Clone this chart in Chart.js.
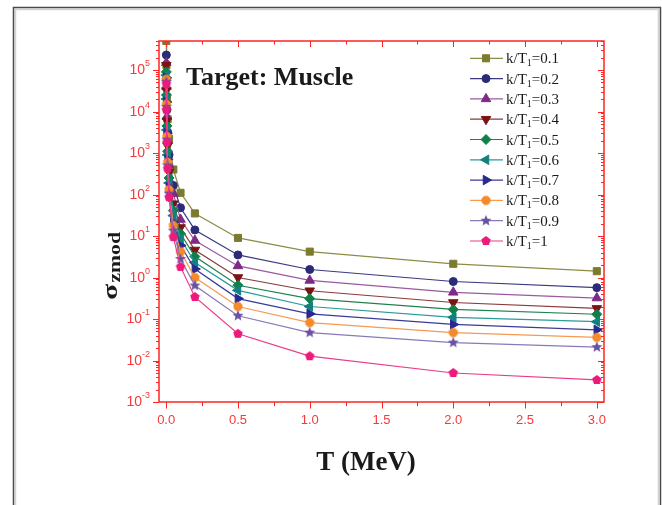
<!DOCTYPE html>
<html>
<head>
<meta charset="utf-8">
<script src="https://cdn.jsdelivr.net/npm/chart.js@4.4.1/dist/chart.umd.min.js"></script>
<style>
  html, body { margin: 0; padding: 0; background: #fff; }
  #wrap { width: 662px; height: 505px; }
</style>
</head>
<body>
<div id="wrap"><canvas id="myChart" width="662" height="505"></canvas></div>
<script>
// T (MeV)
const energies = [0.001, 0.002, 0.005, 0.01, 0.02, 0.05, 0.1, 0.2, 0.5, 1, 2, 3];
const ratioLabels = ['0.1', '0.2', '0.3', '0.4', '0.5', '0.6', '0.7', '0.8', '0.9', '1'];

const sigma_k01 = [500000, 130000, 22000, 6500, 2200, 400, 110, 35, 9.0, 4.2, 2.14, 1.42];
const sigma_k02 = [230000, 60000, 11000, 3200, 900, 165, 48, 14, 3.5, 1.56, 0.80, 0.57];
const sigma_k03 = [150000, 40000, 7500, 2000, 520, 105, 25, 7.8, 1.9, 0.85, 0.44, 0.32];
const sigma_k04 = [130000, 32000, 6000, 1500, 350, 60, 16, 4.6, 1.0, 0.48, 0.25, 0.18];
const sigma_k05 = [90000, 25000, 4500, 1100, 250, 41, 11.3, 3.2, 0.65, 0.31, 0.17, 0.13];
const sigma_k06 = [75000, 20000, 3600, 900, 190, 31, 8.5, 2.3, 0.49, 0.20, 0.11, 0.086];
const sigma_k07 = [65000, 17000, 3000, 700, 150, 21, 5.9, 1.6, 0.31, 0.133, 0.074, 0.055];
const sigma_k08 = [60000, 15000, 2500, 600, 130, 18, 4.2, 1.0, 0.20, 0.082, 0.047, 0.036];
const sigma_k09 = [52000, 13000, 2100, 500, 105, 13.5, 2.8, 0.64, 0.12, 0.047, 0.027, 0.021];
const sigma_k10 = [46000, 11000, 1800, 420, 86, 9.4, 1.8, 0.34, 0.044, 0.0127, 0.0050, 0.0034];

const xTickValues = [0, 0.5, 1, 1.5, 2, 2.5, 3];
const xMinorValues = [0.25, 0.75, 1.25, 1.75, 2.25, 2.75];
const yExponents = [-3, -2, -1, 0, 1, 2, 3, 4, 5];

const RED = '#ff2424';
const SERIF = "'Liberation Serif', 'Times New Roman', serif";
const SANS = "'Liberation Sans', Arial, sans-serif";

// filled polygon / star markers drawn into small canvases
function polyMarker(sides, r, color, star, rot) {
  const c = document.createElement('canvas');
  const s = Math.ceil(r * 2 + 2);
  c.width = c.height = s;
  const g = c.getContext('2d');
  g.fillStyle = color;
  g.beginPath();
  const n = star ? sides * 2 : sides;
  for (let i = 0; i < n; i++) {
    const a = -Math.PI / 2 + (rot || 0) + i * Math.PI * 2 / n;
    const rr = (star && i % 2) ? r * 0.45 : r;
    g.lineTo(s / 2 + rr * Math.cos(a), s / 2 + rr * Math.sin(a));
  }
  g.closePath();
  g.fill();
  return c;
}

const seriesValues = [sigma_k01, sigma_k02, sigma_k03, sigma_k04, sigma_k05,
                      sigma_k06, sigma_k07, sigma_k08, sigma_k09, sigma_k10];
const markerColors = ['#7b7b2e', '#2b2b78', '#7e2a86', '#7a1414', '#10804a',
                      '#138080', '#282890', '#f58a2a', '#6a50a0', '#ec1a7a'];
const lineColors = ['#8c8c45', '#3a3a80', '#9a5aa0', '#8a3a3a', '#208050',
                    '#2a9a9a', '#3a3a98', '#f59a50', '#8a78b8', '#ec3a8a'];
const styles = [
  { s: 'rect', r: 5, rot: 0 },
  { s: 'circle', r: 4, rot: 0 },
  { s: 'triangle', r: 5.5, rot: 0 },
  { s: 'triangle', r: 5.5, rot: 180 },
  { s: 'rectRot', r: 5, rot: 0 },
  { s: 'triangle', r: 5.5, rot: -90 },
  { s: 'triangle', r: 5.5, rot: 90 },
  { s: polyMarker(8, 4.8, markerColors[7], false, Math.PI / 8), r: 5, rot: 0 },
  { s: polyMarker(5, 5.8, markerColors[8], true, 0), r: 5, rot: 0 },
  { s: polyMarker(5, 5, markerColors[9], false, 0), r: 5, rot: 0 }
];

const datasets = seriesValues.map((vals, i) => ({
  label: 'k/T1=' + ratioLabels[i],
  data: energies.map((e, j) => ({ x: e, y: vals[j] })),
  borderColor: lineColors[i],
  borderWidth: 1.2,
  backgroundColor: markerColors[i],
  pointBackgroundColor: markerColors[i],
  pointBorderColor: markerColors[i],
  pointBorderWidth: 1,
  pointStyle: styles[i].s,
  pointRotation: styles[i].rot,
  pointRadius: styles[i].r,
  tension: 0,
  fill: false,
  order: 10 - i
}));

const decorPlugin = {
  id: 'decor',
  beforeDraw(chart) {
    const ctx = chart.ctx;
    ctx.save();
    ctx.fillStyle = '#fff';
    ctx.fillRect(0, 0, chart.width, chart.height);
    ctx.strokeStyle = '#d2d2d2';
    ctx.lineWidth = 1.5;
    ctx.beginPath();
    ctx.moveTo(15.5, 505); ctx.lineTo(15.5, 9.5); ctx.lineTo(658.5, 9.5); ctx.lineTo(658.5, 505);
    ctx.stroke();
    ctx.strokeStyle = '#4a4a4a';
    ctx.beginPath();
    ctx.moveTo(13.5, 505); ctx.lineTo(13.5, 7.5); ctx.lineTo(660.5, 7.5); ctx.lineTo(660.5, 505);
    ctx.stroke();
    ctx.restore();
  },
  afterDraw(chart) {
    const ctx = chart.ctx;
    const xs = chart.scales.x, ys = chart.scales.y;
    const a = chart.chartArea;
    ctx.save();
    // frame
    ctx.strokeStyle = RED;
    ctx.lineWidth = 1.5;
    ctx.strokeRect(a.left, a.top, a.right - a.left, a.bottom - a.top);
    ctx.lineWidth = 1;
    ctx.beginPath();
    xTickValues.forEach(v => {
      const px = Math.round(xs.getPixelForValue(v)) + 0.5;
      ctx.moveTo(px, a.bottom); ctx.lineTo(px, a.bottom + 6.5);
      ctx.moveTo(px, a.top); ctx.lineTo(px, a.top + 6);
    });
    xMinorValues.forEach(v => {
      const px = Math.round(xs.getPixelForValue(v)) + 0.5;
      ctx.moveTo(px, a.bottom); ctx.lineTo(px, a.bottom + 4);
      ctx.moveTo(px, a.top); ctx.lineTo(px, a.top + 3.5);
    });
    yExponents.forEach(e => {
      for (let m = 1; m <= 9; m++) {
        const v = m * Math.pow(10, e);
        if (v > ys.max) break;
        const py = Math.round(ys.getPixelForValue(v)) + 0.5;
        const len = m === 1 ? 6 : 3;
        ctx.moveTo(a.left, py); ctx.lineTo(a.left - len, py);
        ctx.moveTo(a.right, py); ctx.lineTo(a.right - len, py);
      }
    });
    ctx.stroke();

    // tick labels
    ctx.fillStyle = '#f53a3a';
    ctx.font = '13px ' + SANS;
    ctx.textAlign = 'center';
    ctx.textBaseline = 'middle';
    xTickValues.forEach(v => {
      ctx.fillText(v.toFixed(1), xs.getPixelForValue(v), 420);
    });
    yExponents.forEach(e => {
      const py = ys.getPixelForValue(Math.pow(10, e));
      const exp = String(e);
      ctx.font = '9px ' + SANS;
      const we = ctx.measureText(exp).width;
      ctx.textAlign = 'right';
      ctx.fillText(exp, 150, py - 6);
      ctx.font = '14px ' + SANS;
      ctx.fillText('10', 150 - we, py + 0.5);
    });

    // title inside plot
    ctx.fillStyle = '#1a1a1a';
    ctx.textAlign = 'left';
    ctx.textBaseline = 'alphabetic';
    ctx.font = 'bold 26px ' + SERIF;
    ctx.fillText('Target: Muscle', 186, 85);

    // x axis title
    ctx.textAlign = 'center';
    ctx.font = 'bold 27px ' + SERIF;
    ctx.fillText('T (MeV)', 366, 470);

    // y axis title, rotated
    ctx.save();
    ctx.translate(117, 300);
    ctx.rotate(-Math.PI / 2);
    ctx.scale(1.35, 1);
    ctx.textAlign = 'left';
    ctx.font = 'bold 22px ' + SERIF;
    ctx.fillText('σ', 0, 0);
    const ws = ctx.measureText('σ').width;
    ctx.font = 'bold 16px ' + SERIF;
    ctx.fillText('zmod', ws + 1, 3);
    ctx.restore();

    // legend
    chart.data.datasets.forEach((ds, i) => {
      const y = 58.3 + i * 20.3;
      ctx.strokeStyle = ds.borderColor;
      ctx.lineWidth = 1.2;
      ctx.beginPath();
      ctx.moveTo(470, y); ctx.lineTo(503, y);
      ctx.stroke();
      ctx.fillStyle = ds.pointBackgroundColor;
      ctx.strokeStyle = ds.pointBorderColor;
      ctx.lineWidth = 1;
      Chart.helpers.drawPoint(ctx, {
        pointStyle: ds.pointStyle,
        rotation: ds.pointRotation || 0,
        radius: ds.pointRadius,
        borderWidth: 1
      }, 486, y);
      ctx.fillStyle = '#1a1a1a';
      ctx.textAlign = 'left';
      ctx.textBaseline = 'alphabetic';
      ctx.font = '15px ' + SERIF;
      let x = 506;
      ctx.fillText('k/T', x, y + 5);
      x += ctx.measureText('k/T').width;
      ctx.font = '10px ' + SERIF;
      ctx.fillText('1', x, y + 8);
      x += ctx.measureText('1').width;
      ctx.font = '15px ' + SERIF;
      ctx.fillText('=' + ratioLabels[i], x, y + 5);
    });
    ctx.restore();
  }
};

const config = {
  type: 'line',
  data: { datasets: datasets },
  options: {
    responsive: false,
    animation: false,
    layout: { padding: { left: 159, right: 58, top: 41, bottom: 103 } },
    plugins: {
      legend: { display: false },
      title: { display: false },
      tooltip: { enabled: false }
    },
    scales: {
      x: { type: 'linear', min: -0.05, max: 3.05, display: false },
      y: { type: 'logarithmic', min: 0.001, max: 500000, display: false }
    }
  },
  plugins: [decorPlugin]
};

const ctx = document.getElementById('myChart').getContext('2d');
const myChart = new Chart(ctx, config);
</script>
</body>
</html>
